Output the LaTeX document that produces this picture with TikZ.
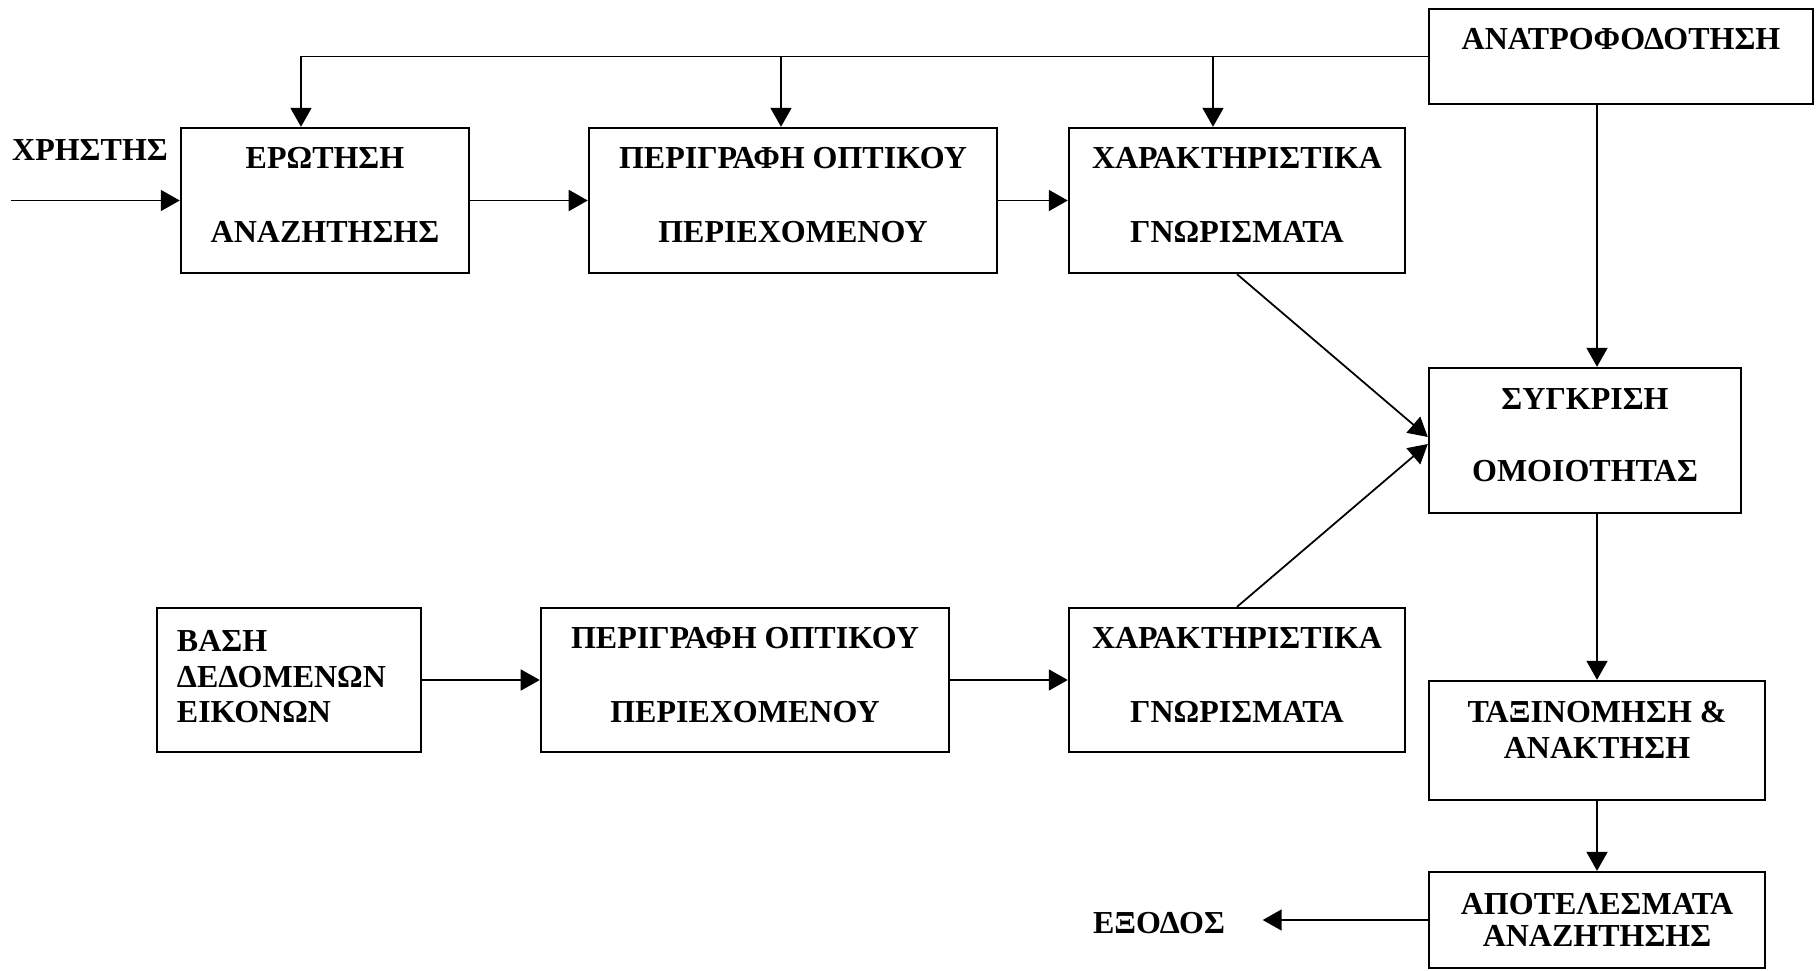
\documentclass[tikz,border=0pt]{standalone}
\usepackage{fontspec}
\setmainfont{Liberation Serif}
\usetikzlibrary{arrows.meta,positioning,calc}

\begin{document}
\begin{tikzpicture}[x=0.01cm,y=-0.01cm,font=\fontsize{9.1}{10.2}\selectfont\bfseries,box/.style={draw,line width=0.65pt,align=center,inner sep=0pt,text depth=3pt,minimum height=1.45cm},arr/.style={-{Triangle[length=1.9mm,width=2.1mm]},line width=0.5pt},lbl/.style={inner sep=0pt}]
\useasboundingbox (0,0) rectangle (1819,970);
\node[box,minimum width=2.88cm] (query) at (325,200.5) {ΕΡΩΤΗΣΗ\\[10.8pt]ΑΝΑΖΗΤΗΣΗΣ};
\node[box,minimum width=4.08cm] (desc1) at (793,200.5) {ΠΕΡΙΓΡΑΦΗ ΟΠΤΙΚΟΥ\\[10.8pt]ΠΕΡΙΕΧΟΜΕΝΟΥ};
\node[box,minimum width=3.36cm] (feat1) at (1237,200.5) {ΧΑΡΑΚΤΗΡΙΣΤΙΚΑ\\[10.8pt]ΓΝΩΡΙΣΜΑΤΑ};
\node[box,minimum width=3.84cm,minimum height=0.95cm,text depth=10pt] (fback) at (1621,56.5) {ΑΝΑΤΡΟΦΟΔΟΤΗΣΗ};
\node[box,minimum width=3.12cm] (sync) at (1585,440.5) {ΣΥΓΚΡΙΣΗ\\[10.3pt]ΟΜΟΙΟΤΗΤΑΣ};
\node[box,minimum width=3.36cm,minimum height=1.19cm,text depth=6.3pt] (rank) at (1597,740.5) {ΤΑΞΙΝΟΜΗΣΗ \&\\ΑΝΑΚΤΗΣΗ};
\node[box,minimum width=3.36cm,minimum height=0.96cm,text depth=-0.5pt] (result) at (1597,920) {ΑΠΟΤΕΛΕΣΜΑΤΑ\\[-1pt]ΑΝΑΖΗΤΗΣΗΣ};
\node[box,align=left,text width=2.24cm,inner xsep=0.2cm,minimum height=1.44cm,text depth=22.4pt] (db) at (289,680) {ΒΑΣΗ\\ΔΕΔΟΜΕΝΩΝ\\ΕΙΚΟΝΩΝ};
\node[box,minimum width=4.08cm,minimum height=1.44cm] (desc2) at (745,680) {ΠΕΡΙΓΡΑΦΗ ΟΠΤΙΚΟΥ\\[10.8pt]ΠΕΡΙΕΧΟΜΕΝΟΥ};
\node[box,minimum width=3.36cm,minimum height=1.44cm] (feat2) at (1237,680) {ΧΑΡΑΚΤΗΡΙΣΤΙΚΑ\\[10.8pt]ΓΝΩΡΙΣΜΑΤΑ};
\node[lbl] (user) at (90,150) {ΧΡΗΣΤΗΣ};
\node[lbl] (exit) at (1159,923) {ΕΞΟΔΟΣ};
\draw[arr] (user.west |- query.west) -- (query.west);
\draw[arr] (query) -- (desc1);
\draw[arr] (desc1) -- (feat1);
\draw[arr] (db) -- (desc2);
\draw[arr] (desc2) -- (feat2);
\draw[arr] (fback.west) -| ([xshift=-0.24cm]query.north);
\draw[arr] ([xshift=-0.12cm]desc1.north |- fback.west) -- ([xshift=-0.12cm]desc1.north);
\draw[arr] ([xshift=-0.24cm]feat1.north |- fback.west) -- ([xshift=-0.24cm]feat1.north);
\draw[arr] (fback.south -| rank) -- (sync.north -| rank);
\draw[arr] (feat1.south) -- ([yshift=1pt]sync.west);
\draw[arr] (feat2.north) -- ([yshift=-1pt]sync.west);
\draw[arr] (sync.south -| rank) -- (rank);
\draw[arr] (rank) -- (result);
\draw[arr,shorten >=0.37cm] (result.west) -- (result.west -| exit.east);
\end{tikzpicture}
\end{document}
